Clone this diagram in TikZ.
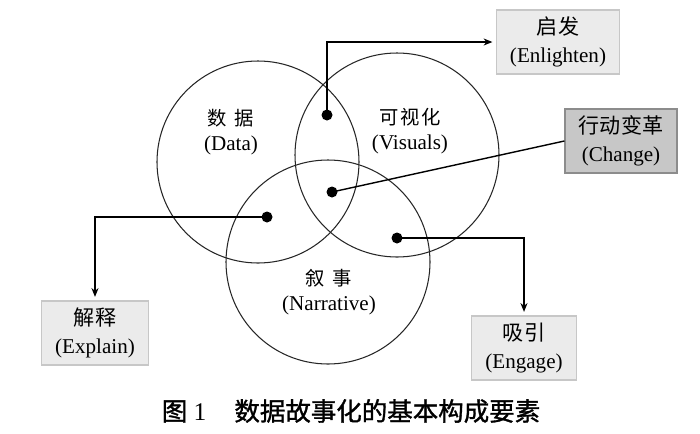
\documentclass[tikz,border=0pt]{standalone}
\usepackage{fontspec}
\setmainfont{Liberation Serif}
\newfontfamily\cjk{Noto Sans CJK SC}
\newfontfamily\capcjk[FakeBold=1.3]{Noto Sans CJK SC}
\usetikzlibrary{arrows.meta}
\usetikzlibrary{calc}

\begin{document}
\begin{tikzpicture}[x=0.02cm,y=-0.02cm,
        ring/.style={draw=black!85,line width=0.6pt},
        conn/.style={line width=1.1pt,-{Stealth[length=5pt,width=4pt]},shorten >=2pt},
        effect/.style={draw=black!22,fill=black!8,line width=0.7pt,minimum height=1.28cm,inner sep=0pt,align=center,font=\fontsize{12}{16}\selectfont},
        label/.style={align=center,font=\fontsize{12}{14.5}\selectfont}]
        
        \useasboundingbox (0,0) rectangle (700,433);
        
        %Circles
        \draw[ring] (258,162) circle (101);
        \draw[ring] (397,155) circle (102);
        \draw[ring] (328,262) circle (102);
        
        \node[label] (data) at (231,132) {{\cjk\fontsize{11}{14}\selectfont 数\hspace{0.4em}据}\\(Data)};
        \node[label] (vis) at (410,131) {{\cjk\fontsize{11}{14}\selectfont 可\kern1pt 视\kern1pt 化}\\(Visuals)};
        \node[label] (nar) at (329,292) {{\cjk\fontsize{11}{14}\selectfont 叙\hspace{0.4em}事}\\(Narrative)};
        
        %Dots
        \fill (327,115) coordinate (pE) circle (5.5);
        \fill (332,192) coordinate (pC) circle (5.5);
        \fill (267,217) coordinate (pX) circle (5.5);
        \fill (397,238) coordinate (pG) circle (5.5);
        
        %Boxes
        \node[effect,minimum width=2.46cm] (enl) at (558,42) {{\cjk 启发}\\(Enlighten)};
        \node[effect,minimum width=2.24cm,fill=black!22,draw=black!45] (chg) at (621,141) {{\cjk 行动变革}\\(Change)};
        \node[effect,minimum width=2.14cm] (exp) at (95,333) {{\cjk 解释}\\(Explain)};
        \node[effect,minimum width=2.1cm] (eng) at (524,348) {{\cjk 吸引}\\(Engage)};
        
        %Connectors
        \draw[conn] (pE) |- (enl.west);
        \draw[line width=0.8pt] (pC) -- (chg.west);
        \draw[conn] (pX) -| (exp.north);
        \draw[conn] (pG) -| (eng.north);
        
        %Caption
        \node (cap) at (351,411) {\fontsize{14.5}{17}\selectfont{\capcjk 图} 1\hspace{1.1em}{\capcjk 数据故事化的基本构成要素}};
        
\end{tikzpicture}
\end{document}
